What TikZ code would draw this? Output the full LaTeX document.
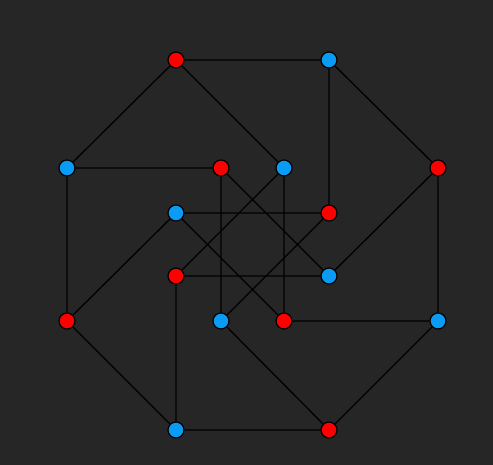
\documentclass[tikz,border=0pt]{standalone}
\definecolor{bg}{HTML}{262626}
\definecolor{nred}{HTML}{FF0000}
\definecolor{nblue}{HTML}{0A9CF5}
\tikzset{
  v/.style={circle,draw=black,line width=1.2pt,minimum size=16pt,inner sep=0pt},
  r/.style={v,fill=nred},
  b/.style={v,fill=nblue},
  e/.style={draw=black,line width=1.3pt}
}
\begin{document}
\begin{tikzpicture}[x=1pt,y=-1pt]
\fill[bg] (0,0) rectangle (493,465);
\useasboundingbox (0,0) rectangle (493,465);
\node[r] (o1) at (176,60) {};
\node[b] (o2) at (329,60) {};
\node[r] (o3) at (438,168) {};
\node[b] (o4) at (438,321) {};
\node[r] (o5) at (329,430) {};
\node[b] (o6) at (176,430) {};
\node[r] (o7) at (67,321) {};
\node[b] (o8) at (67,168) {};
\node[r] (i1) at (221,168) {};
\node[b] (i2) at (284,168) {};
\node[b] (i3) at (176,213) {};
\node[r] (i4) at (329,213) {};
\node[r] (i5) at (176,276) {};
\node[b] (i6) at (329,276) {};
\node[b] (i7) at (221,321) {};
\node[r] (i8) at (284,321) {};
\path[e]
 (o1)--(o2) (o1)--(o8) (o1)--(i2)
 (o2)--(o3) (o2)--(i4)
 (o8)--(i1) (o8)--(o7)
 (o3)--(o4) (o3)--(i6)
 (i1)--(i7) (i1)--(i6)
 (i2)--(i8) (i2)--(i5)
 (i3)--(i4) (i3)--(o7) (i3)--(i8)
 (i4)--(i7)
 (i5)--(i6) (i5)--(o6)
 (o4)--(i8) (o4)--(o5)
 (o5)--(o6) (o5)--(i7)
 (o7)--(o6);
\end{tikzpicture}
\end{document}
